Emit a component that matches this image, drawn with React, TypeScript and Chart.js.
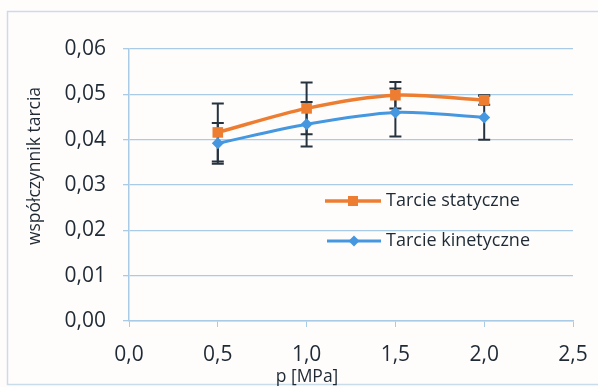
import React, { useEffect, useRef } from "react";
import { Chart, registerables } from "chart.js";

Chart.register(...registerables);

const pressure = [0.5, 1.0, 1.5, 2.0];
const staticFriction = [0.0416, 0.0469, 0.0498, 0.0487];
const staticError = [0.0064, 0.0057, 0.0029, 0.001];
const kineticFriction = [0.0392, 0.0434, 0.046, 0.0449];
const kineticError = [0.0045, 0.0049, 0.0053, 0.0049];
const seriesNames = ["Tarcie statyczne", "Tarcie kinetyczne"];
const xAxisTitle = "p [MPa]";
const yAxisTitle = "współczynnik tarcia";

const ORANGE = "#ed7d31";
const BLUE = "#4597e0";
const GRID = "#a9cbe6";
const TEXT = "#1f2a35";
const FONT = "'Open Sans', sans-serif";

const errorsBySeries = [staticError, kineticError];

const fmt = (v: number, d: number) => v.toFixed(d).replace(".", ",");

export default function App() {
  const ref = useRef<HTMLCanvasElement | null>(null);

  useEffect(() => {
    document.body.style.margin = "0";
    const canvas = ref.current;
    if (!canvas) return;

    const background = {
      id: "bg",
      beforeDraw(chart: any) {
        const { ctx, width, height } = chart;
        ctx.save();
        ctx.fillStyle = "#fffdfc";
        ctx.fillRect(0, 0, width, height);
        ctx.strokeStyle = "#c9dcea";
        ctx.lineWidth = 1.5;
        ctx.strokeRect(7.5, 11.5, width - 6, height - 14);
        ctx.restore();
      },
    };

    const errorBars = {
      id: "errorBars",
      beforeDatasetsDraw(chart: any) {
        const { ctx } = chart;
        const y = chart.scales.y;
        chart.data.datasets.forEach((ds: any, i: number) => {
          const errs = errorsBySeries[i];
          const meta = chart.getDatasetMeta(i);
          meta.data.forEach((pt: any, j: number) => {
            const v = ds.data[j].y;
            const e = errs[j];
            const px = pt.x;
            const top = y.getPixelForValue(v + e);
            const bot = y.getPixelForValue(v - e);
            ctx.save();
            ctx.strokeStyle = "#26333f";
            ctx.lineWidth = 2;
            ctx.beginPath();
            ctx.moveTo(px, top);
            ctx.lineTo(px, bot);
            ctx.moveTo(px - 6, top);
            ctx.lineTo(px + 6, top);
            ctx.moveTo(px - 6, bot);
            ctx.lineTo(px + 6, bot);
            ctx.stroke();
            ctx.restore();
          });
        });
      },
    };

    const customText = {
      id: "customText",
      afterDraw(chart: any) {
        const { ctx } = chart;
        ctx.save();
        ctx.fillStyle = TEXT;
        ctx.font = `17.5px ${FONT}`;
        ctx.textAlign = "center";
        ctx.textBaseline = "middle";
        ctx.fillText(xAxisTitle, 307, 377);
        ctx.translate(35, 166);
        ctx.rotate(-Math.PI / 2);
        ctx.fillText(yAxisTitle, 0, 0);
        ctx.restore();

        const items = [
          { color: ORANGE, style: "rect", r: 7, y: 201, x0: 325, lw: 3.5 },
          { color: BLUE, style: "rectRot", r: 5.5, y: 241, x0: 327, lw: 3 },
        ];
        items.forEach((it, i) => {
          ctx.save();
          ctx.strokeStyle = it.color;
          ctx.lineWidth = it.lw;
          ctx.beginPath();
          ctx.moveTo(it.x0, it.y);
          ctx.lineTo(381, it.y);
          ctx.stroke();
          ctx.fillStyle = it.color;
          const cx = (it.x0 + 381) / 2;
          if (it.style === "rect") {
            ctx.fillRect(cx - 5, it.y - 5, 10, 10);
          } else {
            ctx.beginPath();
            ctx.moveTo(cx, it.y - it.r);
            ctx.lineTo(cx + it.r, it.y);
            ctx.lineTo(cx, it.y + it.r);
            ctx.lineTo(cx - it.r, it.y);
            ctx.closePath();
            ctx.fill();
          }
          ctx.fillStyle = TEXT;
          ctx.font = `18px ${FONT}`;
          ctx.textAlign = "left";
          ctx.textBaseline = "middle";
          ctx.fillText(seriesNames[i], 386, it.y);
          ctx.restore();
        });
      },
    };

    const chart = new Chart(canvas, {
      type: "line",
      data: {
        datasets: [
          {
            label: seriesNames[0],
            data: pressure.map((x, i) => ({ x, y: staticFriction[i] })),
            borderColor: ORANGE,
            backgroundColor: ORANGE,
            borderWidth: 3.5,
            pointStyle: "rect",
            pointRadius: 7.5,
            pointBorderWidth: 0,
            tension: 0.3,
          },
          {
            label: seriesNames[1],
            data: pressure.map((x, i) => ({ x, y: kineticFriction[i] })),
            borderColor: BLUE,
            backgroundColor: BLUE,
            borderWidth: 3,
            pointStyle: "rectRot",
            pointRadius: 6,
            pointBorderWidth: 0,
            tension: 0.3,
          },
        ],
      },
      options: {
        responsive: false,
        animation: false,
        layout: { padding: { left: 0, top: 49, right: 25, bottom: 0 } },
        plugins: {
          legend: { display: false },
          tooltip: { enabled: false },
        },
        scales: {
          x: {
            type: "linear",
            min: 0,
            max: 2.5,
            afterFit(scale: any) {
              scale.height = 66;
              scale.paddingLeft = 0;
              scale.paddingRight = 0;
            },
            ticks: {
              stepSize: 0.5,
              color: TEXT,
              font: { family: FONT, size: 21 },
              padding: 15,
              maxRotation: 0,
              callback: (v: any) => fmt(Number(v), 1),
            },
            grid: {
              display: true,
              drawOnChartArea: false,
              drawTicks: true,
              tickLength: 6,
              color: GRID,
            },
            border: { color: GRID, width: 1.5 },
          },
          y: {
            type: "linear",
            min: 0,
            max: 0.06,
            afterFit(scale: any) {
              scale.width = 129;
              scale.paddingTop = 0;
              scale.paddingBottom = 0;
            },
            ticks: {
              stepSize: 0.01,
              color: TEXT,
              font: { family: FONT, size: 21 },
              padding: 17,
              callback: (v: any) => fmt(Number(v), 2),
            },
            grid: {
              color: GRID,
              lineWidth: 1.3,
              tickLength: 6,
            },
            border: { color: GRID, width: 1.5 },
          },
        },
      },
      plugins: [background, errorBars, customText],
    });

    return () => chart.destroy();
  }, []);

  return (
    <div style={{ width: 598, height: 387 }}>
      <canvas ref={ref} width={598} height={387} />
    </div>
  );
}
